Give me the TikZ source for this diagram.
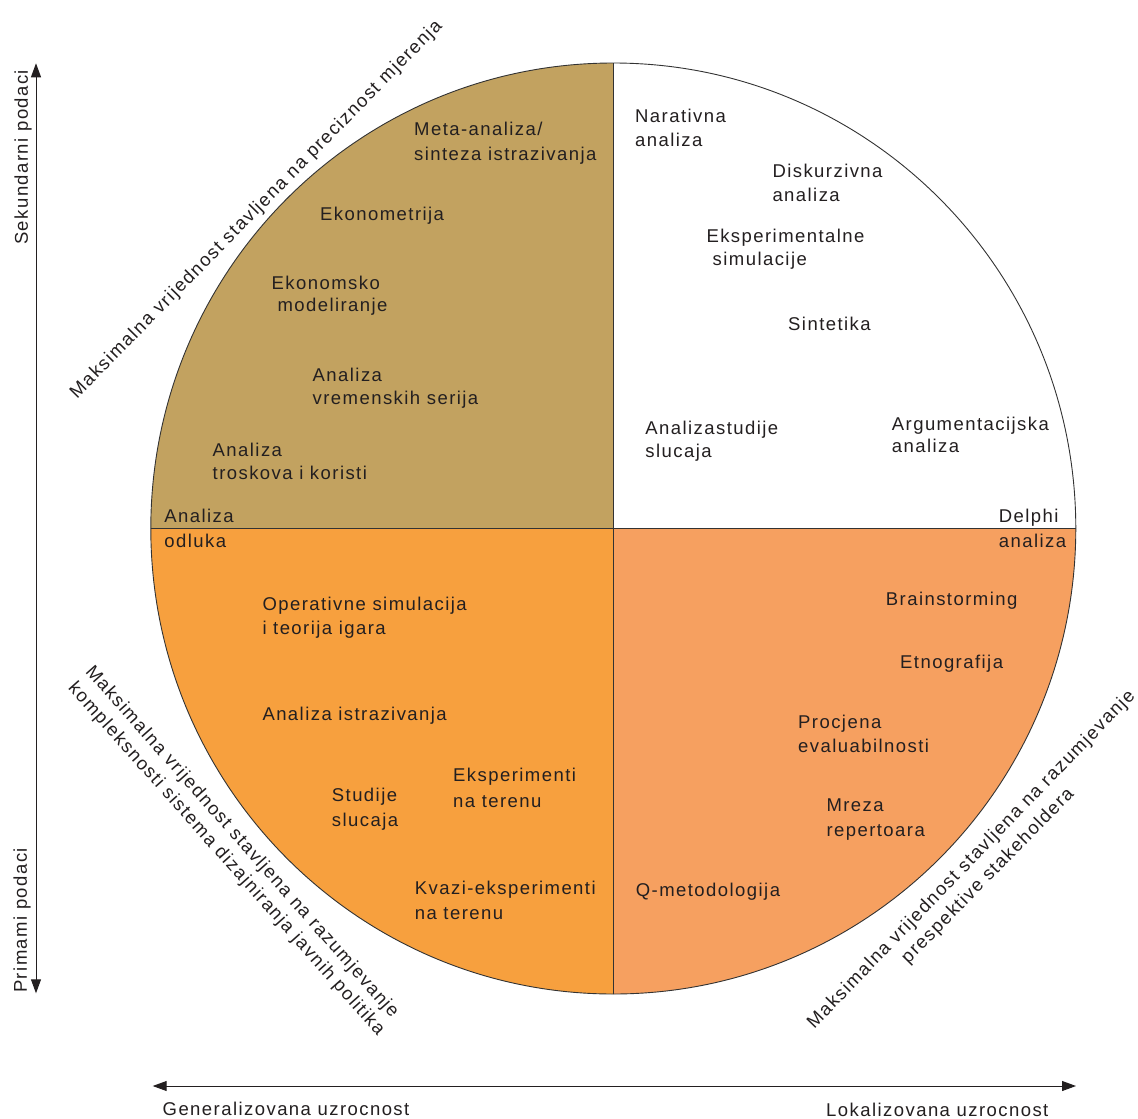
\documentclass[tikz,border=0pt]{standalone}
\usepackage{fontspec}
\usetikzlibrary{arrows.meta}
\newfontfamily\labfont[LetterSpace=7.8]{Liberation Sans}
\definecolor{tanq}{HTML}{C2A260}
\definecolor{orq}{HTML}{F7A03E}
\definecolor{salq}{HTML}{F6A060}
\definecolor{txtc}{HTML}{231F20}
\definecolor{edgec}{HTML}{333333}
\begin{document}
\begin{tikzpicture}[x=1pt,y=-1pt,
  lbl/.style={font=\labfont\fontsize{18.5}{23}\selectfont, text=txtc, inner sep=0pt, anchor=base west},
  lble/.style={lbl, anchor=base east},
  diag/.style={lbl, anchor=base},
  axisline/.style={draw=txtc, line width=1pt, {Triangle[length=14pt,width=10pt]}-{Triangle[length=14pt,width=10pt]}}]
\useasboundingbox[fill=white] (0,0) rectangle (1138,1119);
\coordinate (C) at (613.3,528.5);
\begin{scope}
  \clip (C) ellipse [x radius=462.5pt, y radius=465.5pt];
  \fill[tanq] (0,0) rectangle (C);
  \fill[orq] (0,528.5) rectangle (613.3,1119);
  \fill[salq] (613.3,528.5) rectangle (1138,1119);
  \draw[edgec, line width=1.3pt] (0,528.5) -- (1138,528.5);
  \draw[edgec, line width=1.1pt] (613.3,0) -- (613.3,1119);
\end{scope}
\draw[edgec, line width=0.9pt] (C) ellipse [x radius=462.5pt, y radius=465.5pt];

% top-left quadrant
\node[lbl] (tl1a) at (414,135.7) {Meta-analiza/};
\node[lbl] (tl1b) at (414,160.7) {sinteza istrazivanja};
\node[lbl] (tl2) at (320,220.7) {Ekonometrija};
\node[lbl] (tl3a) at (271.5,289) {Ekonomsko};
\node[lbl] (tl3b) at (277.3,311.7) {modeliranje};
\node[lbl] (tl4a) at (312.5,381.7) {Analiza};
\node[lbl] (tl4b) at (312.5,404) {vremenskih serija};
\node[lbl] (tl5a) at (212.5,456) {Analiza};
\node[lbl] (tl5b) at (212.5,479.3) {troskova i koristi};
\node[lbl] (tl6a) at (164.2,522.3) {Analiza};
\node[lbl] (tl6b) at (164.2,547.7) {odluka};

% top-right quadrant
\node[lbl] (tr1a) at (635,122.3) {Narativna};
\node[lbl] (tr1b) at (635,146.7) {analiza};
\node[lbl] (tr2a) at (772.3,177.7) {Diskurzivna};
\node[lbl] (tr2b) at (772.3,201.7) {analiza};
\node[lbl] (tr3a) at (706.3,242.7) {Eksperimentalne};
\node[lbl] (tr3b) at (712.5,265.7) {simulacije};
\node[lbl] (tr4) at (788,330.7) {Sintetika};
\node[lbl] (tr5a) at (645.2,434.3) {Analizastudije};
\node[lbl] (tr5b) at (645.2,457.2) {slucaja};
\node[lbl] (tr6a) at (891.7,430.2) {Argumentacijska};
\node[lbl] (tr6b) at (891.7,452.5) {analiza};
\node[lble] (tr7a) at (1058.7,522.5) {Delphi};
\node[lble] (tr7b) at (1066.4,547) {analiza};

% bottom-left quadrant
\node[lbl] (bl1a) at (262.3,610) {Operativne simulacija};
\node[lbl] (bl1b) at (262.3,634.3) {i teorija igara};
\node[lbl] (bl2) at (262.3,720.7) {Analiza istrazivanja};
\node[lbl] (bl3a) at (331.7,801.7) {Studije};
\node[lbl] (bl3b) at (331.7,826.7) {slucaja};
\node[lbl] (bl4a) at (453,781.7) {Eksperimenti};
\node[lbl] (bl4b) at (453,807.3) {na terenu};
\node[lbl] (bl5a) at (414.7,894.3) {Kvazi-eksperimenti};
\node[lbl] (bl5b) at (414.7,919.3) {na terenu};

% bottom-right quadrant
\node[lbl] (br1) at (885.7,605.5) {Brainstorming};
\node[lbl] (br2) at (900,668) {Etnografija};
\node[lbl] (br3a) at (798,728) {Procjena};
\node[lbl] (br3b) at (798,752.4) {evaluabilnosti};
\node[lbl] (br4a) at (826.3,811.7) {Mreza};
\node[lbl] (br4b) at (826.3,836) {repertoara};
\node[lbl] (br5) at (635.7,896.5) {Q-metodologija};

% diagonal labels
\node[diag, rotate=45.5] (dtl) at (260,213) {Maksimalna vrijednost stavljena na preciznost mjerenja};
\node[diag, rotate=-48.5] (dbl1) at (238.2,845.5) {Maksimalna vrijednost stavljena na razumjevanje};
\node[diag, rotate=-48.3] (dbl2) at (222.5,862.4) {kompleksnosti sistema dizajniranja javnih politika};
\node[diag, rotate=46] (dbr1) at (975,863) {Maksimalna vrijednost stavljena na razumjevanje};
\node[diag, rotate=45.5] (dbr2) at (991.5,879.5) {prespektive stakeholdera};

% axes
\coordinate (vtop) at (36,63.3);
\coordinate (vbot) at (36,993.3);
\draw[axisline] (vbot) -- (vtop);
\node[lbl, rotate=90] (sek) at (27.8,245) {Sekundarni podaci};
\node[lbl, rotate=90] (prim) at (27,993) {Primami podaci};
\coordinate (hleft) at (152.7,1086);
\coordinate (hright) at (1076,1086);
\draw[axisline] (hleft) -- (hright);
\node[lbl] (gen) at (162.5,1115.5) {Generalizovana uzrocnost};
\node[lbl] (lok) at (826,1116.5) {Lokalizovana uzrocnost};
\end{tikzpicture}
\end{document}
